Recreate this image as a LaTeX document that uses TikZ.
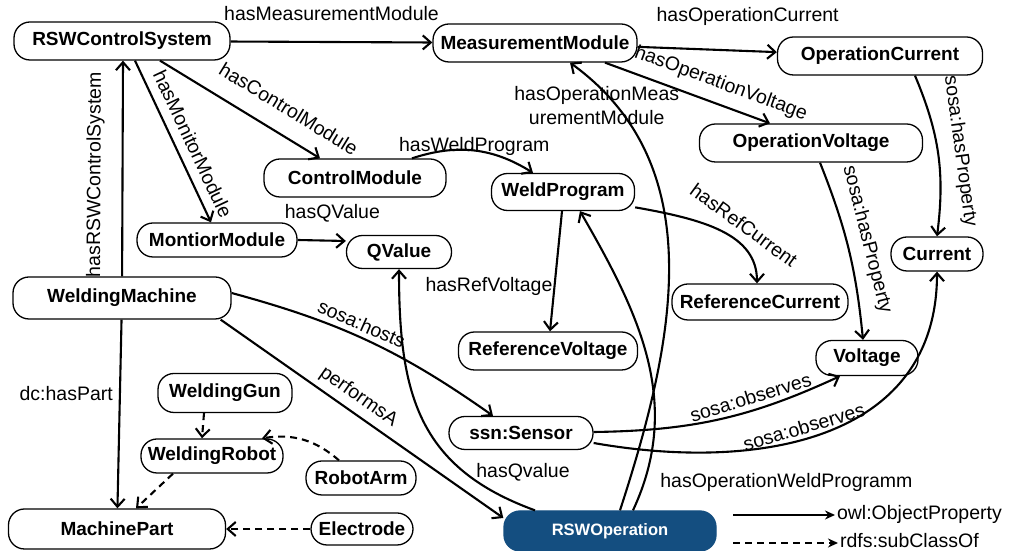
\documentclass[tikz,border=0pt]{standalone}
\usepackage{fontspec}
\setmainfont{Liberation Sans}
\usetikzlibrary{arrows.meta, positioning}
\definecolor{opblue}{RGB}{20,78,128}

\begin{document}
\begin{tikzpicture}[x=1pt, y=1pt, -{Straight Barb[length=8pt,width=14pt]}, line width=2.1pt]
    \tikzstyle{concept}=[draw, line width=1.3pt, rounded corners=16pt, inner sep=0pt, minimum height=36pt, font=\fontsize{19}{21}\selectfont\bfseries]
    \tikzstyle{operation}=[concept, fill=opblue, draw=opblue, text=white, font=\fontsize{16.5}{18}\selectfont\bfseries]
    \tikzstyle{prop}=[font=\fontsize{19.5}{24}\selectfont, inner sep=1pt, text height=14pt, text depth=4pt]
    \tikzstyle{subclass}=[dash pattern=on 7pt off 5pt]
    \tikzstyle{legend tip}=[-{Stealth[length=10pt,width=9pt]}]

    \useasboundingbox (0,0) rectangle (1013,551);

    \node[concept, minimum width=216pt, minimum height=38pt] (RCS) at (122,510) {RSWControlSystem};
    \node[concept, minimum width=204pt, minimum height=38pt] (MM) at (535,508) {MeasurementModule};
    \node[concept, minimum width=205pt, minimum height=38pt] (OC) at (880,495) {OperationCurrent};
    \node[concept, minimum width=223pt, minimum height=38pt] (OV) at (811,408) {OperationVoltage};
    \node[concept, minimum width=92pt, minimum height=34pt] (Cur) at (937,297) {Current};
    \node[concept, minimum width=182pt, minimum height=38pt] (CM) at (355,373) {ControlModule};
    \node[concept, minimum width=143pt, minimum height=37pt] (WP) at (563,359) {WeldProgram};
    \node[concept, minimum width=160pt, minimum height=34pt] (MoM) at (217,311) {MontiorModule};
    \node[concept, minimum width=105pt, minimum height=33pt] (QV) at (399,299) {QValue};
    \node[concept, minimum width=218pt, minimum height=42pt] (WM) at (122,253) {WeldingMachine};
    \node[concept, minimum width=176pt, minimum height=36pt] (RC) at (760,249) {ReferenceCurrent};
    \node[concept, minimum width=179pt, minimum height=38pt] (RV) at (548,200) {ReferenceVoltage};
    \node[concept, minimum width=102pt, minimum height=35pt] (Vol) at (867,193) {Voltage};
    \node[concept, minimum width=144pt, minimum height=33pt] (Sen) at (521,118) {ssn:Sensor};
    \node[concept, minimum width=134pt, minimum height=39pt] (WG) at (225,158) {WeldingGun};
    \node[concept, minimum width=142pt, minimum height=34pt] (WR) at (212,95) {WeldingRobot};
    \node[concept, minimum width=110pt, minimum height=34pt] (RA) at (361,73) {RobotArm};
    \node[concept, minimum width=217pt, minimum height=40pt] (MP) at (117,22) {MachinePart};
    \node[concept, minimum width=102pt, minimum height=32pt] (El) at (362,22) {Electrode};
    \node[operation, minimum width=212pt, minimum height=40pt] (Op) at (610,20) {RSWOperation};

    % control system and machine
    \draw (RCS) -- node[prop, above=15pt] {hasMeasurementModule} (MM);
    \draw ([xshift=13pt]RCS.south) -- node[prop, sloped, above=4pt, pos=0.56] {hasMonitorModule} ([xshift=-6pt]MoM.north);
    \draw ([xshift=38pt]RCS.south) -- node[prop, sloped, above=13pt, pos=0.72] {hasControlModule} ([xshift=-35pt]CM.north);
    \draw (WM) -- node[prop, sloped, above=16pt, pos=0.47] {hasRSWControlSystem} ([xshift=1pt]RCS.south);
    \draw (WM) -- node[prop, left, pos=0.4, xshift=-5pt] {dc:hasPart} (MP);
    \draw ([yshift=5pt]WM.east) to[bend left=10] node[prop, sloped, above=0pt, pos=0.45] {sosa:hosts} ([xshift=-28pt]Sen.north);
    \draw ([xshift=-11pt]WM.south east) -- node[prop, sloped, above=5pt, pos=0.455] {performsA} ([yshift=13pt]Op.west);

    % modules
    \draw (MM) -- node[prop, above=23pt, pos=0.79] {hasOperationCurrent} (OC);
    \draw ([xshift=70pt]MM.south) -- node[prop, sloped, above=9pt, pos=0.66] {hasOperationVoltage} ([xshift=-41pt]OV.north);
    \draw ([xshift=57pt]CM.north) to[bend left=25] node[prop, pos=0.5, yshift=4pt] {hasWeldProgram} ([xshift=-30pt]WP.north);
    \draw (MoM.east) -- node[prop, above=16pt, pos=0.72] {hasQValue} ([yshift=11pt]QV.west);
    \draw ([xshift=-1pt]WP.south) -- node[prop, left, pos=0.63] {hasRefVoltage} ([xshift=2pt]RV.north);
    \draw (WP.-12) to[out=-10, in=90, out looseness=1.24, in looseness=0.88] node[prop, sloped, above=4pt, pos=0.6] {hasRefCurrent} ([xshift=-3pt]RC.north);

    % properties and sensor
    \draw ([xshift=35pt]OC.south) to[bend left=15] node[prop, sloped, above=11pt] {sosa:hasProperty} (Cur.north);
    \draw ([xshift=9pt]OV.south) to[bend left=8] node[prop, sloped, above=9pt, pos=0.47] {sosa:hasProperty} ([xshift=-4pt]Vol.north);
    \draw ([yshift=1pt]Sen.east) to[bend right=12] node[prop, sloped, above=0pt, pos=0.65] {sosa:observes} ([xshift=-27pt]Vol.south);
    \draw ([yshift=-10pt]Sen.east) to[out=-10, in=-90, looseness=1.12] node[prop, sloped, above=-1pt, pos=0.45] {sosa:observes} (Cur.south);

    % operation
    \draw ([xshift=-75pt]Op.north) to[out=160, in=-90, looseness=1.15] node[prop, right, pos=0.25, xshift=10pt] {hasQvalue} (QV.south);
    \draw ([xshift=10pt]Op.north) to[out=72, in=-36] node[prop, pos=0.87, xshift=-20pt, yshift=-13pt, align=center] {hasOperationMeas\\urementModule} ([xshift=35pt]MM.south);
    \draw ([xshift=23pt]Op.north) to[out=65, in=-60] node[prop, right=13pt, pos=0.1, yshift=-4pt] {hasOperationWeldProgramm} ([xshift=17pt]WP.south);

    % subclasses
    \draw[subclass] ([xshift=-21pt]WG.south) -- ([xshift=-10pt]WR.north);
    \draw[subclass] ([xshift=-22pt]RA.north) to[bend right=25] ([xshift=50pt]WR.north);
    \draw[subclass] ([xshift=-39pt]WR.south) -- ([xshift=19pt]MP.north);
    \draw[subclass] (El) -- (MP);

    % legend
    \coordinate (objA) at (733,36);
    \node[prop, right] (objT) at (835,36) {owl:ObjectProperty};
    \draw[legend tip] (objA) -- (objT.west);
    \coordinate (subA) at (733,8);
    \node[prop, right] (subT) at (838,8) {rdfs:subClassOf};
    \draw[subclass, legend tip] (subA) -- (subT.west);
\end{tikzpicture}
\end{document}
